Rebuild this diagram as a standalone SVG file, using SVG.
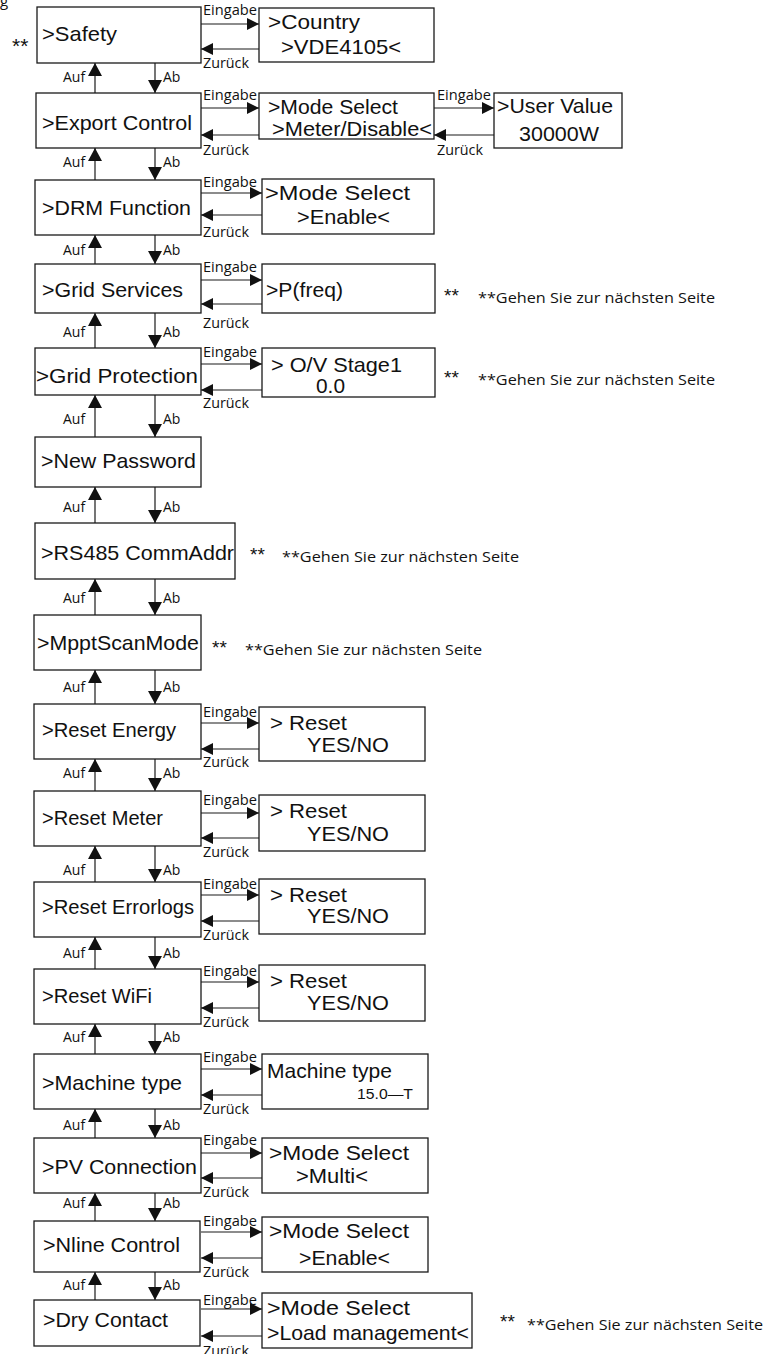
<svg xmlns="http://www.w3.org/2000/svg" width="764" height="1354" viewBox="0 0 764 1354">
<style>
.box{fill:#fff;stroke:#1a1a1a;stroke-width:1.3}
.t{font-family:"Liberation Sans",Arial,sans-serif;font-size:21px;fill:#111}
.sm{font-family:"Liberation Sans",Arial,sans-serif;font-size:14px;fill:#111}
.l{font-family:"Open Sans","DejaVu Sans",sans-serif;font-size:14px;fill:#111}
.n{font-family:"Open Sans","DejaVu Sans",sans-serif;font-size:15px;fill:#111}
.st{font-family:"Liberation Sans",Arial,sans-serif;font-size:19px;fill:#111}
.c{stroke:#1a1a1a;stroke-width:1.2;fill:none}
.h{marker-end:url(#ah)}
.v{marker-end:url(#av)}
</style>
<defs>
<marker id="ah" viewBox="0 0 12 12" refX="12" refY="6" markerWidth="12" markerHeight="12" markerUnits="userSpaceOnUse" orient="auto"><path d="M0,0 L12,6 L0,12 z" fill="#111"/></marker>
<marker id="av" viewBox="0 0 13 14" refX="13" refY="7" markerWidth="13" markerHeight="14" markerUnits="userSpaceOnUse" orient="auto"><path d="M0,0 L13,7 L0,14 z" fill="#111"/></marker>
</defs>
<rect width="764" height="1354" fill="#fff"/>
<text class="l" x="0" y="6" style="font-size:15px">g</text>

<g id="connectors">
<line class="c h" x1="201" y1="24" x2="259" y2="24"/><line class="c h" x1="259" y1="49" x2="201" y2="49"/>
<line class="c h" x1="201" y1="108" x2="259" y2="108"/><line class="c h" x1="259" y1="135" x2="201" y2="135"/>
<line class="c h" x1="434" y1="108" x2="494" y2="108"/><line class="c h" x1="494" y1="135" x2="434" y2="135"/>
<line class="c h" x1="201" y1="193" x2="262" y2="193"/><line class="c h" x1="262" y1="215" x2="201" y2="215"/>
<line class="c h" x1="201" y1="280" x2="262" y2="280"/><line class="c h" x1="262" y1="304" x2="201" y2="304"/>
<line class="c h" x1="201" y1="364" x2="262" y2="364"/><line class="c h" x1="262" y1="390" x2="201" y2="390"/>
<line class="c h" x1="201" y1="723" x2="259" y2="723"/><line class="c h" x1="259" y1="749" x2="201" y2="749"/>
<line class="c h" x1="201" y1="813" x2="259" y2="813"/><line class="c h" x1="259" y1="838" x2="201" y2="838"/>
<line class="c h" x1="201" y1="895" x2="259" y2="895"/><line class="c h" x1="259" y1="921" x2="201" y2="921"/>
<line class="c h" x1="201" y1="982" x2="259" y2="982"/><line class="c h" x1="259" y1="1008" x2="201" y2="1008"/>
<line class="c h" x1="201" y1="1069" x2="262" y2="1069"/><line class="c h" x1="262" y1="1095" x2="201" y2="1095"/>
<line class="c h" x1="201" y1="1153" x2="262" y2="1153"/><line class="c h" x1="262" y1="1178" x2="201" y2="1178"/>
<line class="c h" x1="201" y1="1232" x2="262" y2="1232"/><line class="c h" x1="262" y1="1258" x2="201" y2="1258"/>
<line class="c h" x1="201" y1="1309" x2="262" y2="1309"/><line class="c h" x1="262" y1="1336" x2="201" y2="1336"/>
<line class="c v" x1="95" y1="93" x2="95" y2="63"/><line class="c v" x1="155" y1="63" x2="155" y2="93"/>
<line class="c v" x1="95" y1="180" x2="95" y2="148"/><line class="c v" x1="155" y1="148" x2="155" y2="180"/>
<line class="c v" x1="95" y1="264" x2="95" y2="235"/><line class="c v" x1="155" y1="235" x2="155" y2="264"/>
<line class="c v" x1="95" y1="348" x2="95" y2="313"/><line class="c v" x1="155" y1="313" x2="155" y2="348"/>
<line class="c v" x1="95" y1="437" x2="95" y2="395"/><line class="c v" x1="155" y1="395" x2="155" y2="437"/>
<line class="c v" x1="95" y1="523" x2="95" y2="487"/><line class="c v" x1="155" y1="487" x2="155" y2="523"/>
<line class="c v" x1="95" y1="615" x2="95" y2="579"/><line class="c v" x1="155" y1="579" x2="155" y2="615"/>
<line class="c v" x1="95" y1="704" x2="95" y2="670"/><line class="c v" x1="155" y1="670" x2="155" y2="704"/>
<line class="c v" x1="95" y1="791" x2="95" y2="759"/><line class="c v" x1="155" y1="759" x2="155" y2="791"/>
<line class="c v" x1="95" y1="882" x2="95" y2="846"/><line class="c v" x1="155" y1="846" x2="155" y2="882"/>
<line class="c v" x1="95" y1="969" x2="95" y2="937"/><line class="c v" x1="155" y1="937" x2="155" y2="969"/>
<line class="c v" x1="95" y1="1054" x2="95" y2="1024"/><line class="c v" x1="155" y1="1024" x2="155" y2="1054"/>
<line class="c v" x1="95" y1="1138" x2="95" y2="1109"/><line class="c v" x1="155" y1="1109" x2="155" y2="1138"/>
<line class="c v" x1="95" y1="1221" x2="95" y2="1193"/><line class="c v" x1="155" y1="1193" x2="155" y2="1221"/>
<line class="c v" x1="95" y1="1300" x2="95" y2="1272"/><line class="c v" x1="155" y1="1272" x2="155" y2="1300"/>
<g class="l">
<text x="203" y="15" textLength="54" lengthAdjust="spacingAndGlyphs">Eingabe</text><text x="203" y="68" textLength="46" lengthAdjust="spacingAndGlyphs">Zurück</text>
<text x="203" y="100" textLength="54" lengthAdjust="spacingAndGlyphs">Eingabe</text><text x="203" y="155" textLength="46" lengthAdjust="spacingAndGlyphs">Zurück</text>
<text x="437" y="100" textLength="54" lengthAdjust="spacingAndGlyphs">Eingabe</text><text x="437" y="155" textLength="46" lengthAdjust="spacingAndGlyphs">Zurück</text>
<text x="203" y="187" textLength="54" lengthAdjust="spacingAndGlyphs">Eingabe</text><text x="203" y="237" textLength="46" lengthAdjust="spacingAndGlyphs">Zurück</text>
<text x="203" y="272" textLength="54" lengthAdjust="spacingAndGlyphs">Eingabe</text><text x="203" y="328" textLength="46" lengthAdjust="spacingAndGlyphs">Zurück</text>
<text x="203" y="357" textLength="54" lengthAdjust="spacingAndGlyphs">Eingabe</text><text x="203" y="408" textLength="46" lengthAdjust="spacingAndGlyphs">Zurück</text>
<text x="203" y="717" textLength="54" lengthAdjust="spacingAndGlyphs">Eingabe</text><text x="203" y="767" textLength="46" lengthAdjust="spacingAndGlyphs">Zurück</text>
<text x="203" y="805" textLength="54" lengthAdjust="spacingAndGlyphs">Eingabe</text><text x="203" y="857" textLength="46" lengthAdjust="spacingAndGlyphs">Zurück</text>
<text x="203" y="889" textLength="54" lengthAdjust="spacingAndGlyphs">Eingabe</text><text x="203" y="940" textLength="46" lengthAdjust="spacingAndGlyphs">Zurück</text>
<text x="203" y="976" textLength="54" lengthAdjust="spacingAndGlyphs">Eingabe</text><text x="203" y="1027" textLength="46" lengthAdjust="spacingAndGlyphs">Zurück</text>
<text x="203" y="1062" textLength="54" lengthAdjust="spacingAndGlyphs">Eingabe</text><text x="203" y="1114" textLength="46" lengthAdjust="spacingAndGlyphs">Zurück</text>
<text x="203" y="1145" textLength="54" lengthAdjust="spacingAndGlyphs">Eingabe</text><text x="203" y="1197" textLength="46" lengthAdjust="spacingAndGlyphs">Zurück</text>
<text x="203" y="1226" textLength="54" lengthAdjust="spacingAndGlyphs">Eingabe</text><text x="203" y="1277" textLength="46" lengthAdjust="spacingAndGlyphs">Zurück</text>
<text x="203" y="1305" textLength="54" lengthAdjust="spacingAndGlyphs">Eingabe</text><text x="203" y="1356" textLength="46" lengthAdjust="spacingAndGlyphs">Zurück</text>
<text x="63" y="82">Auf</text><text x="163" y="82">Ab</text>
<text x="63" y="167">Auf</text><text x="163" y="167">Ab</text>
<text x="63" y="255">Auf</text><text x="163" y="255">Ab</text>
<text x="63" y="337">Auf</text><text x="163" y="337">Ab</text>
<text x="63" y="424">Auf</text><text x="163" y="424">Ab</text>
<text x="63" y="512">Auf</text><text x="163" y="512">Ab</text>
<text x="63" y="603">Auf</text><text x="163" y="603">Ab</text>
<text x="63" y="692">Auf</text><text x="163" y="692">Ab</text>
<text x="63" y="778">Auf</text><text x="163" y="778">Ab</text>
<text x="63" y="875">Auf</text><text x="163" y="875">Ab</text>
<text x="63" y="958">Auf</text><text x="163" y="958">Ab</text>
<text x="63" y="1042">Auf</text><text x="163" y="1042">Ab</text>
<text x="63" y="1130">Auf</text><text x="163" y="1130">Ab</text>
<text x="63" y="1208">Auf</text><text x="163" y="1208">Ab</text>
<text x="63" y="1290">Auf</text><text x="163" y="1290">Ab</text>
</g>
</g>

<g id="safety"><rect class="box" x="37" y="7" width="164" height="56"/><text class="t" x="42" y="41" textLength="75" lengthAdjust="spacingAndGlyphs">&gt;Safety</text><text class="t" x="12" y="53">**</text></g>
<g id="country"><rect class="box" x="259" y="8" width="175" height="54"/><text class="t" x="268" y="29" textLength="92" lengthAdjust="spacingAndGlyphs">&gt;Country</text><text class="t" x="281" y="54" textLength="120" lengthAdjust="spacingAndGlyphs">&gt;VDE4105&lt;</text></g>

<g id="export-control"><rect class="box" x="36" y="93" width="165" height="55"/><text class="t" x="42" y="130" textLength="150" lengthAdjust="spacingAndGlyphs">&gt;Export Control</text></g>
<g id="export-mode"><rect class="box" x="259" y="93" width="175" height="46"/><text class="t" x="268" y="114" textLength="130" lengthAdjust="spacingAndGlyphs">&gt;Mode Select</text><text class="t" x="272" y="136" textLength="160" lengthAdjust="spacingAndGlyphs">&gt;Meter/Disable&lt;</text></g>
<g id="user-value"><rect class="box" x="494" y="93" width="128" height="55"/><text class="t" x="497" y="113" textLength="116" lengthAdjust="spacingAndGlyphs">&gt;User Value</text><text class="t" x="519" y="141" textLength="80" lengthAdjust="spacingAndGlyphs">30000W</text></g>

<g id="drm-function"><rect class="box" x="35" y="180" width="166" height="55"/><text class="t" x="42" y="215" textLength="149" lengthAdjust="spacingAndGlyphs">&gt;DRM Function</text></g>
<g id="drm-mode"><rect class="box" x="262" y="179" width="172" height="55"/><text class="t" x="265" y="200" textLength="145" lengthAdjust="spacingAndGlyphs">&gt;Mode Select</text><text class="t" x="297" y="224" textLength="93" lengthAdjust="spacingAndGlyphs">&gt;Enable&lt;</text></g>

<g id="grid-services"><rect class="box" x="35" y="264" width="166" height="49"/><text class="t" x="42" y="297" textLength="141" lengthAdjust="spacingAndGlyphs">&gt;Grid Services</text></g>
<g id="pfreq"><rect class="box" x="262" y="264" width="173" height="49"/><text class="t" x="266" y="297" textLength="77" lengthAdjust="spacingAndGlyphs">&gt;P(freq)</text><text class="st" x="444" y="302">**</text><text class="n" x="478" y="303" textLength="237" lengthAdjust="spacingAndGlyphs">**Gehen Sie zur nächsten Seite</text></g>

<g id="grid-protection"><rect class="box" x="35" y="348" width="166" height="47"/><text class="t" x="36" y="383" textLength="162" lengthAdjust="spacingAndGlyphs">&gt;Grid Protection</text></g>
<g id="ov-stage"><rect class="box" x="262" y="348" width="173" height="49"/><text class="t" x="271" y="372" textLength="131" lengthAdjust="spacingAndGlyphs">&gt; O/V Stage1</text><text class="t" x="316" y="393" textLength="29" lengthAdjust="spacingAndGlyphs">0.0</text><text class="st" x="444" y="384">**</text><text class="n" x="478" y="385" textLength="237" lengthAdjust="spacingAndGlyphs">**Gehen Sie zur nächsten Seite</text></g>

<g id="new-password"><rect class="box" x="35" y="437" width="166" height="50"/><text class="t" x="41" y="468" textLength="155" lengthAdjust="spacingAndGlyphs">&gt;New Password</text></g>

<g id="rs485"><rect class="box" x="35" y="523" width="200" height="56"/><text class="t" x="41" y="560" textLength="193" lengthAdjust="spacingAndGlyphs">&gt;RS485 CommAddr</text><text class="st" x="250" y="561">**</text><text class="n" x="282" y="562" textLength="237" lengthAdjust="spacingAndGlyphs">**Gehen Sie zur nächsten Seite</text></g>

<g id="mppt"><rect class="box" x="34" y="615" width="167" height="55"/><text class="t" x="37" y="650" textLength="162" lengthAdjust="spacingAndGlyphs">&gt;MpptScanMode</text><text class="st" x="212" y="654">**</text><text class="n" x="245" y="655" textLength="237" lengthAdjust="spacingAndGlyphs">**Gehen Sie zur nächsten Seite</text></g>

<g id="reset-energy"><rect class="box" x="34" y="704" width="167" height="55"/><text class="t" x="42" y="737" textLength="134" lengthAdjust="spacingAndGlyphs">&gt;Reset Energy</text></g>
<g id="reset-energy-confirm"><rect class="box" x="259" y="707" width="166" height="54"/><text class="t" x="270" y="730" textLength="77" lengthAdjust="spacingAndGlyphs">&gt; Reset</text><text class="t" x="307" y="752" textLength="82" lengthAdjust="spacingAndGlyphs">YES/NO</text></g>

<g id="reset-meter"><rect class="box" x="34" y="791" width="167" height="55"/><text class="t" x="42" y="825" textLength="121" lengthAdjust="spacingAndGlyphs">&gt;Reset Meter</text></g>
<g id="reset-meter-confirm"><rect class="box" x="259" y="795" width="166" height="56"/><text class="t" x="270" y="818" textLength="77" lengthAdjust="spacingAndGlyphs">&gt; Reset</text><text class="t" x="307" y="841" textLength="82" lengthAdjust="spacingAndGlyphs">YES/NO</text></g>

<g id="reset-errorlogs"><rect class="box" x="34" y="882" width="167" height="55"/><text class="t" x="42" y="914" textLength="152" lengthAdjust="spacingAndGlyphs">&gt;Reset Errorlogs</text></g>
<g id="reset-errorlogs-confirm"><rect class="box" x="259" y="879" width="166" height="55"/><text class="t" x="270" y="902" textLength="77" lengthAdjust="spacingAndGlyphs">&gt; Reset</text><text class="t" x="307" y="923" textLength="82" lengthAdjust="spacingAndGlyphs">YES/NO</text></g>

<g id="reset-wifi"><rect class="box" x="34" y="969" width="167" height="55"/><text class="t" x="42" y="1003" textLength="110" lengthAdjust="spacingAndGlyphs">&gt;Reset WiFi</text></g>
<g id="reset-wifi-confirm"><rect class="box" x="259" y="965" width="166" height="56"/><text class="t" x="270" y="988" textLength="77" lengthAdjust="spacingAndGlyphs">&gt; Reset</text><text class="t" x="307" y="1010" textLength="82" lengthAdjust="spacingAndGlyphs">YES/NO</text></g>

<g id="machine-type"><rect class="box" x="34" y="1054" width="167" height="55"/><text class="t" x="42" y="1090" textLength="140" lengthAdjust="spacingAndGlyphs">&gt;Machine type</text></g>
<g id="machine-type-value"><rect class="box" x="262" y="1054" width="166" height="55"/><text class="t" x="267" y="1078" textLength="125" lengthAdjust="spacingAndGlyphs">Machine type</text><text class="sm" x="357" y="1099" textLength="56" lengthAdjust="spacingAndGlyphs">15.0—T</text></g>

<g id="pv-connection"><rect class="box" x="34" y="1138" width="167" height="55"/><text class="t" x="42" y="1174" textLength="155" lengthAdjust="spacingAndGlyphs">&gt;PV Connection</text></g>
<g id="pv-mode"><rect class="box" x="262" y="1138" width="166" height="55"/><text class="t" x="269" y="1160" textLength="140" lengthAdjust="spacingAndGlyphs">&gt;Mode Select</text><text class="t" x="296" y="1183" textLength="72" lengthAdjust="spacingAndGlyphs">&gt;Multi&lt;</text></g>

<g id="nline-control"><rect class="box" x="34" y="1221" width="166" height="51"/><text class="t" x="43" y="1252" textLength="137" lengthAdjust="spacingAndGlyphs">&gt;Nline Control</text></g>
<g id="nline-mode"><rect class="box" x="262" y="1217" width="166" height="55"/><text class="t" x="269" y="1238" textLength="140" lengthAdjust="spacingAndGlyphs">&gt;Mode Select</text><text class="t" x="299" y="1265" textLength="91" lengthAdjust="spacingAndGlyphs">&gt;Enable&lt;</text></g>

<g id="dry-contact"><rect class="box" x="34" y="1300" width="166" height="46"/><text class="t" x="43" y="1327" textLength="125" lengthAdjust="spacingAndGlyphs">&gt;Dry Contact</text></g>
<g id="dry-mode"><rect class="box" x="262" y="1293" width="210" height="55"/><text class="t" x="267" y="1315" textLength="143" lengthAdjust="spacingAndGlyphs">&gt;Mode Select</text><text class="t" x="267" y="1340" textLength="202" lengthAdjust="spacingAndGlyphs">&gt;Load management&lt;</text><text class="st" x="500" y="1328">**</text><text class="n" x="527" y="1330" textLength="236" lengthAdjust="spacingAndGlyphs">**Gehen Sie zur nächsten Seite</text></g>
</svg>
